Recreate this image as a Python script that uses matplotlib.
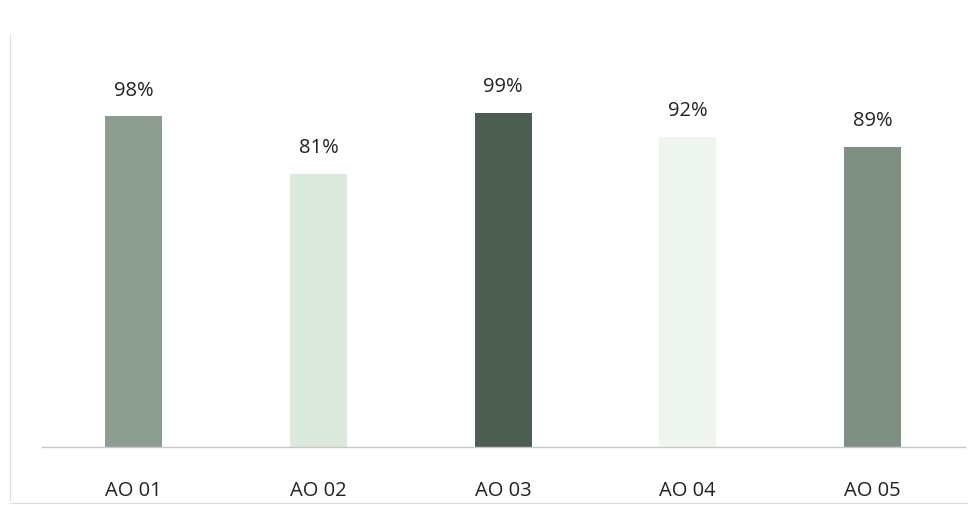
import matplotlib.pyplot as plt
from matplotlib.lines import Line2D

# Dados
categorias = ["AO 01", "AO 02", "AO 03", "AO 04", "AO 05"]
percentuais = [98, 81, 99, 92, 89]
cores = ["#8d9c90", "#dbe9dd", "#4d5d52", "#eef5ef", "#7f8f83"]

fig = plt.figure(figsize=(9.77, 5.06), dpi=100)
ax = fig.add_axes([0.0425, 0.1146, 0.945, 0.80])

x = range(len(categorias))
ax.bar(x, percentuais, width=0.31, color=cores, edgecolor="none")

for i, v in zip(x, percentuais):
    ax.text(i, v + 5, f"{v}%", ha="center", va="bottom",
            fontsize=14.5, family="Open Sans", color="#222222")

ax.set_xlim(-0.5, len(categorias) - 0.5)
ax.set_ylim(0, 120)
ax.set_xticks(list(x))
ax.set_xticklabels(categorias, fontsize=14.5, family="Open Sans", color="#222222")
ax.tick_params(axis="x", length=0, pad=24)
ax.set_yticks([])

for lado in ["top", "right", "left"]:
    ax.spines[lado].set_visible(False)
ax.spines["bottom"].set_color("#c8c8c8")
ax.spines["bottom"].set_linewidth(1)

# borda tênue do quadro (digitalizado)
fig.add_artist(Line2D([0.010, 0.010], [0.01, 0.93], color="#dddddd", lw=0.8))
fig.add_artist(Line2D([0.010, 0.99], [0.003, 0.003], color="#dddddd", lw=0.8))

fig.savefig("out.png", dpi=100)
